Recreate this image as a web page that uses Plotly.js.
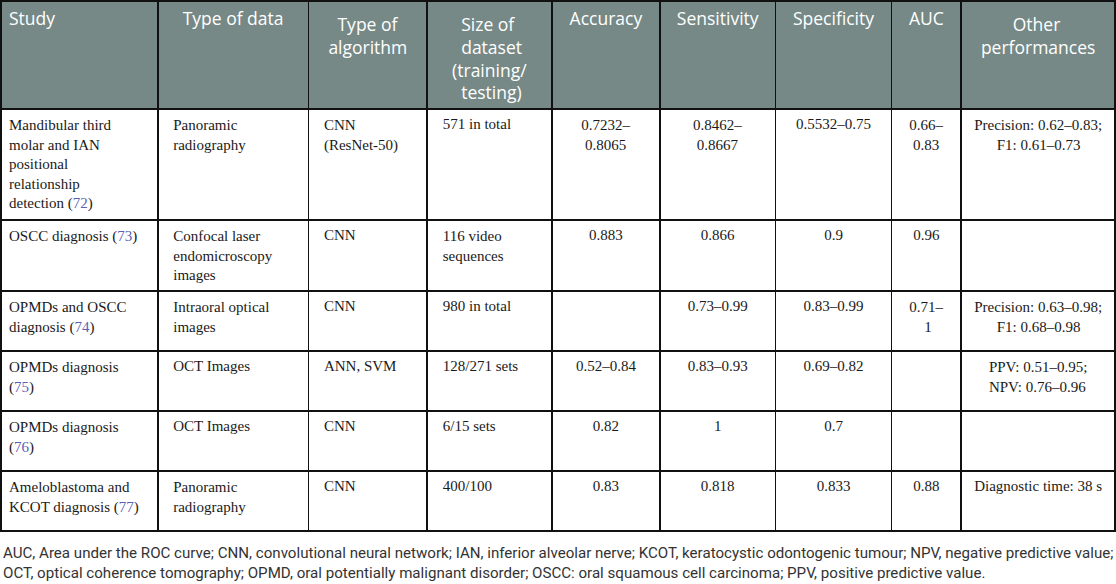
<!DOCTYPE html>
<html>
<head>
<meta charset="utf-8">
<script src="https://cdn.plot.ly/plotly-3.0.1.min.js"></script>
<style>html,body{margin:0;padding:0;background:#fff;}#chart{width:1116px;height:584px;}</style>
</head>
<body>
<div id="chart"></div>
<script>
const headers = ["Study", "Type of data", "Type of<br>algorithm", "Size of<br>dataset<br>(training/<br>testing)", "Accuracy", "Sensitivity", "Specificity", "AUC", "Other<br>performances"];
const studies = ["Mandibular third<br>molar and IAN<br>positional<br>relationship<br>detection", "OSCC diagnosis", "OPMDs and OSCC<br>diagnosis", "OPMDs diagnosis<br>", "OPMDs diagnosis<br>", "Ameloblastoma and<br>KCOT diagnosis"];
const refs = ["72", "73", "74", "75", "76", "77"];
const dataTypes = ["Panoramic<br>radiography", "Confocal laser<br>endomicroscopy<br>images", "Intraoral optical<br>images", "OCT Images", "OCT Images", "Panoramic<br>radiography"];
const algorithms = ["CNN<br>(ResNet-50)", "CNN", "CNN", "ANN, SVM", "CNN", "CNN"];
const datasetSizes = ["571 in total", "116 video<br>sequences", "980 in total", "128/271 sets", "6/15 sets", "400/100"];
const accuracy = ["0.7232–<br>0.8065", "0.883", "", "0.52–0.84", "0.82", "0.83"];
const sensitivity = ["0.8462–<br>0.8667", "0.866", "0.73–0.99", "0.83–0.93", "1", "0.818"];
const specificity = ["0.5532–0.75", "0.9", "0.83–0.99", "0.69–0.82", "0.7", "0.833"];
const auc = ["0.66–<br>0.83", "0.96", "0.71–<br>1", "", "", "0.88"];
const otherPerf = ["Precision: 0.62–0.83;<br>F1: 0.61–0.73", "", "Precision: 0.63–0.98;<br>F1: 0.68–0.98", "PPV: 0.51–0.95;<br>NPV: 0.76–0.96", "", "Diagnostic time: 38 s"];
const footnote = "AUC, Area under the ROC curve; CNN, convolutional neural network; IAN, inferior alveolar nerve; KCOT, keratocystic odontogenic tumour; NPV, negative predictive value;<br>OCT, optical coherence tomography; OPMD, oral potentially malignant disorder; OSCC: oral squamous cell carcinoma; PPV, positive predictive value.";

const refColor = "#5b5fb8";
const HEAD_FONT = "Open Sans";
const HEAD_SIZE = 17.5;
const BODY_FONT = "Liberation Serif";
const BODY_SIZE = 15;

const ctx = document.createElement("canvas").getContext("2d");
function centerLines(text, family, size) {
  const lines = text.split("<br>");
  if (lines.length < 2) return text;
  ctx.font = size + "px '" + family + "'";
  const strip = s => s.replace(/<[^>]+>/g, "");
  const ws = lines.map(l => ctx.measureText(strip(l)).width);
  const maxW = Math.max(...ws);
  const sp = ctx.measureText("\u00a0").width;
  return lines.map((l, i) => "\u00a0".repeat(Math.max(0, Math.round((maxW - ws[i]) / 2 / sp))) + l).join("<br>");
}
const indent = t => t.split("<br>").map(l => l ? "\u00a0\u00a0" + l : l).join("<br>");

const studyCells = studies.map((s, i) => {
  const sep = s.endsWith("<br>") ? "" : " ";
  let out = s + sep + "(<span style='color:" + refColor + "'>" + refs[i] + "</span>)";
  if (!out.includes("<br>")) out += "<br>";
  return out;
});
const headCells = headers.map((h, i) => i === 0 ? h : centerLines(h, HEAD_FONT, HEAD_SIZE));
const centered = col => col.map(t => centerLines(t, BODY_FONT, BODY_SIZE));

const trace = {
  type: "table",
  columnwidth: [157, 151, 119, 125, 108, 116, 116, 70, 154],
  domain: {x: [0, 1], y: [0, 1]},
  header: {
    values: headCells,
    align: ["left", "center", "center", "center", "center", "center", "center", "center", "center"],
    fill: {color: "#768986"},
    line: {color: "#111111", width: 1.6},
    font: {family: "'" + HEAD_FONT + "', sans-serif", size: HEAD_SIZE, color: "#ffffff"},
    height: 106
  },
  cells: {
    values: [studyCells, dataTypes.map(indent), algorithms.map(indent), datasetSizes.map(indent),
             centered(accuracy), centered(sensitivity), centered(specificity), centered(auc), centered(otherPerf)],
    align: ["left", "left", "left", "left", "center", "center", "center", "center", "center"],
    fill: {color: "#ffffff"},
    line: {color: "#111111", width: 1.6},
    font: {family: "'" + BODY_FONT + "', serif", size: BODY_SIZE, color: "#1a1a1a"},
    height: 60
  }
};

const layout = {
  width: 1116,
  height: 584,
  margin: {l: 1, r: 1, t: 1, b: 48},
  paper_bgcolor: "#ffffff",
  annotations: [{
    text: footnote,
    xref: "paper", yref: "paper",
    x: 0, y: -0.012, xanchor: "left", yanchor: "top",
    align: "left", showarrow: false,
    font: {family: "Roboto, sans-serif", size: 15.1, color: "#333333"}
  }]
};

Plotly.newPlot("chart", [trace], layout, {displayModeBar: false, staticPlot: true}).then(gd => {
  gd.querySelectorAll("#header .cell-text").forEach(el => {
    const t = el.getAttribute("transform") || "";
    el.setAttribute("transform", t + " translate(0,3)");
  });
});
</script>
</body>
</html>
